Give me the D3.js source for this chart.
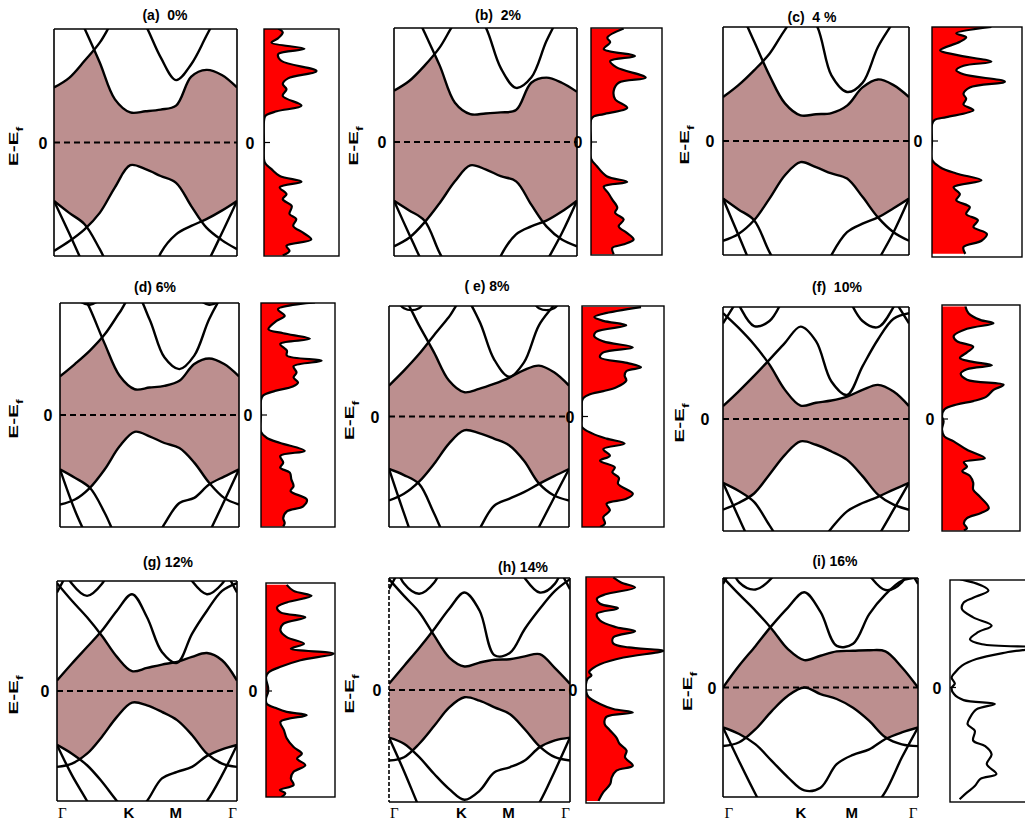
<!DOCTYPE html>
<html>
<head>
<meta charset="utf-8">
<script src="https://cdnjs.cloudflare.com/ajax/libs/d3/7.8.5/d3.min.js"></script>
<style>
  body { margin: 0; background: #fff; }
  text { font-family: "Liberation Sans", Arial, sans-serif; }
</style>
</head>
<body>
<script>
// k-path sample points, fraction of the G-K-M-G path
var kGrid = [0, 0.083, 0.167, 0.25, 0.333, 0.417, 0.5, 0.583, 0.667, 0.75, 0.833, 0.917, 1];
var kLabels = ["Γ", "K", "M", "Γ"];
var kLabelPos = [0.03, 0.40, 0.66, 0.975];

var titles = ["(a)  0%", "(b)  2%", "(c)  4 %", "(d) 6%", "( e) 8%", "(f)  10%", "(g) 12%", "(h) 14%", "(i) 16%"];

// bands: energies (E-Ef) on kGrid; dos: [energy, relative density]
// (a) 0%
var condA = [
  [0.97, 1.14, 1.44, 1.76, 2.2, 2.5, 2.07, 1.50, 1.10, 1.38, 1.88, 2.4, 2.9],
  [3.2, 2.6, 2.01, 1.41, 0.76, 0.53, 0.55, 0.58, 0.65, 1.16, 1.28, 1.19, 0.97]
];
var valA = [
  [-1.91, -1.74, -1.53, -1.24, -0.79, -0.40, -0.47, -0.59, -0.71, -1.12, -1.50, -1.72, -1.88],
  [-1.03, -1.24, -1.44, -1.88, -2.4, -2.7, -2.7, -1.95, -1.62, -1.47, -1.35, -1.20, -1.03],
  [-1.03, -1.60, -2.2, -2.8, -3.2, -3.4, -3.4, -3.2, -2.9, -2.6, -2.15, -1.6, -1.03]
];
var dosA = [[2.01,.19],[1.94,.25],[1.84,.19],[1.76,.10],[1.65,.54],[1.56,.19],[1.44,.23],[1.26,.70],[1.13,.32],[1.03,.25],[0.94,.30],[0.82,.25],[0.65,.50],[0.55,.17],[0.47,.02],[0.38,0],[0,0],[-0.35,0.01],[-0.47,.10],[-0.59,.21],[-0.69,.50],[-0.79,.21],[-0.91,.30],[-1.0,.25],[-1.12,.37],[-1.26,.34],[-1.35,.43],[-1.47,.39],[-1.59,.52],[-1.71,.63],[-1.82,.30],[-1.91,.34],[-1.99,.25]];

// (b) 2%
var condB = [
  [0.90, 1.07, 1.34, 1.66, 2.1, 2.4, 2.02, 1.30, 0.95, 1.13, 1.77, 2.3, 2.8],
  [3.1, 2.5, 1.92, 1.34, 0.69, 0.49, 0.50, 0.52, 0.56, 1.04, 1.13, 1.04, 0.88]
];
var valB = [
  [-1.83, -1.68, -1.41, -1.07, -0.69, -0.41, -0.48, -0.60, -0.69, -1.10, -1.48, -1.71, -1.83],
  [-1.03, -1.20, -1.38, -1.95, -2.4, -2.7, -2.7, -2.0, -1.62, -1.48, -1.38, -1.22, -1.03],
  [-1.03, -1.62, -2.2, -2.8, -3.2, -3.4, -3.4, -3.2, -2.9, -2.6, -2.1, -1.6, -1.03]
];
var dosB = [[1.99,.46],[1.83,.23],[1.75,.27],[1.63,.18],[1.51,.62],[1.42,.27],[1.31,.36],[1.13,.77],[1.04,.39],[0.90,.32],[0.75,.34],[0.60,.51],[0.49,.18],[0.45,.04],[0.39,0],[0,0],[-0.29,0],[-0.42,.08],[-0.60,.22],[-0.70,.51],[-0.78,.18],[-0.89,.24],[-1.01,.30],[-1.15,.37],[-1.24,.34],[-1.36,.46],[-1.48,.39],[-1.59,.50],[-1.71,.60],[-1.80,.45],[-1.86,.30],[-1.97,.32]];

// (c) 4%
var condC = [
  [0.77, 0.98, 1.24, 1.53, 1.95, 2.3, 2.05, 1.15, 0.86, 1.02, 1.65, 2.1, 2.6],
  [2.9, 2.35, 1.75, 1.15, 0.66, 0.45, 0.47, 0.49, 0.62, 0.94, 1.08, 0.98, 0.77]
];
var valC = [
  [-1.75, -1.63, -1.39, -1.01, -0.60, -0.37, -0.46, -0.57, -0.66, -0.98, -1.34, -1.60, -1.75],
  [-1.01, -1.20, -1.39, -1.95, -2.4, -2.7, -2.6, -2.0, -1.60, -1.45, -1.34, -1.18, -1.01],
  [-1.01, -1.65, -2.3, -2.9, -3.2, -3.4, -3.4, -3.2, -2.9, -2.6, -2.1, -1.6, -1.01]
];
var dosC = [[2.0,.66],[1.89,.27],[1.82,.38],[1.74,.31],[1.59,.09],[1.51,.27],[1.39,.66],[1.32,.35],[1.24,.27],[1.17,.35],[1.04,.81],[0.94,.42],[0.83,.35],[0.74,.38],[0.64,.35],[0.54,.46],[0.42,.16],[0.37,.03],[0.29,0],[0,0],[-0.33,0],[-0.46,.09],[-0.57,.27],[-0.69,.55],[-0.81,.24],[-0.93,.31],[-1.04,.27],[-1.16,.42],[-1.28,.38],[-1.39,.51],[-1.51,.46],[-1.63,.61],[-1.75,.55],[-1.86,.35],[-1.98,.37]];

// (d) 6%
var condD = [
  [0.69, 0.91, 1.15, 1.44, 1.83, 2.2, 1.71, 1.03, 0.82, 1.06, 1.71, 2.2, 2.6],
  [2.9, 2.45, 1.9, 1.27, 0.70, 0.46, 0.49, 0.52, 0.61, 0.91, 1.01, 0.91, 0.69],
  [2.5, 2.1, 1.97, 2.15, 2.6, 3.0, 3.2, 3.0, 2.6, 2.15, 1.97, 2.1, 2.5]
];
var valD = [
  [-1.60, -1.51, -1.30, -0.97, -0.56, -0.30, -0.38, -0.50, -0.59, -0.85, -1.21, -1.48, -1.60],
  [-0.97, -1.12, -1.30, -1.75, -2.3, -2.6, -2.4, -1.95, -1.57, -1.48, -1.24, -1.10, -0.97],
  [-0.97, -1.7, -2.3, -2.9, -3.2, -3.4, -3.4, -3.2, -2.9, -2.6, -2.1, -1.54, -0.97]
];
var dosD = [[2.01,.73],[1.89,.23],[1.77,.32],[1.68,.21],[1.53,.10],[1.46,.30],[1.36,.66],[1.27,.26],[1.15,.35],[1.06,.35],[0.97,.82],[0.87,.44],[0.76,.48],[0.67,.44],[0.58,.50],[0.51,.43],[0.43,.19],[0.35,.03],[0.27,0],[0,0],[-0.30,0],[-0.41,.08],[-0.50,.26],[-0.64,.59],[-0.73,.26],[-0.85,.30],[-0.94,.26],[-1.03,.39],[-1.15,.41],[-1.27,.44],[-1.36,.40],[-1.51,.62],[-1.63,.57],[-1.72,.35],[-1.84,.30],[-1.93,.32],[-1.99,.30]];

// (e) 8%
var condE = [
  [0.56, 0.83, 1.13, 1.47, 1.80, 2.15, 1.74, 1.04, 0.72, 0.98, 1.65, 2.02, 2.4],
  [2.4, 2.15, 1.65, 1.16, 0.65, 0.44, 0.50, 0.59, 0.70, 0.84, 0.92, 0.80, 0.56],
  [2.4, 1.96, 1.96, 2.4, 2.8, 3.1, 3.2, 3.1, 2.8, 2.4, 1.96, 1.96, 2.4]
];
var valE = [
  [-1.52, -1.40, -1.18, -0.86, -0.49, -0.25, -0.30, -0.40, -0.52, -0.80, -1.21, -1.43, -1.52],
  [-0.95, -1.06, -1.22, -1.75, -2.3, -2.5, -2.05, -1.62, -1.49, -1.37, -1.22, -1.08, -0.95],
  [-0.95, -1.75, -2.5, -3.0, -3.3, -3.4, -3.4, -3.3, -3.0, -2.5, -2.0, -1.47, -0.95]
];
var dosE = [[1.98,.72],[1.86,.26],[1.80,.15],[1.73,.26],[1.65,.54],[1.53,.17],[1.45,.15],[1.36,.26],[1.25,.62],[1.16,.26],[1.07,.22],[0.97,.55],[0.89,.72],[0.82,.54],[0.74,.52],[0.65,.54],[0.53,.42],[0.46,.26],[0.40,.09],[0.34,.02],[0.28,0],[0,0],[-0.19,0],[-0.31,.13],[-0.40,.30],[-0.49,.52],[-0.59,.26],[-0.71,.34],[-0.80,.22],[-0.92,.40],[-1.01,.37],[-1.11,.45],[-1.22,.44],[-1.40,.62],[-1.49,.54],[-1.58,.30],[-1.70,.34],[-1.82,.26],[-1.94,.28],[-2.0,.22]];

// (f) 10%
var condF = [
  [0.23, 0.49, 0.77, 1.06, 1.36, 1.65, 1.39, 0.67, 0.43, 0.94, 1.42, 1.79, 1.89],
  [1.89, 1.63, 1.33, 0.97, 0.52, 0.24, 0.29, 0.33, 0.40, 0.52, 0.61, 0.49, 0.23],
  [1.71, 2.15, 2.6, 3.0, 3.3, 3.5, 3.5, 3.5, 3.3, 3.0, 2.6, 2.15, 1.71],
  [2.6, 2.05, 1.66, 1.75, 2.2, 2.7, 3.0, 2.7, 2.2, 1.75, 1.64, 2.0, 2.6]
];
var valF = [
  [-1.62, -1.50, -1.33, -0.99, -0.64, -0.40, -0.46, -0.58, -0.73, -1.02, -1.35, -1.53, -1.62],
  [-1.14, -1.28, -1.48, -1.9, -2.3, -2.5, -2.3, -1.95, -1.65, -1.50, -1.39, -1.26, -1.14],
  [-1.14, -1.75, -2.35, -2.9, -3.2, -3.4, -3.4, -3.2, -2.9, -2.55, -2.1, -1.62, -1.14]
];
var dosF = [[2.01,.30],[1.89,.34],[1.77,.49],[1.71,.66],[1.61,.32],[1.48,.15],[1.39,.19],[1.29,.40],[1.19,.32],[1.09,.23],[1.03,.36],[0.96,.64],[0.89,.32],[0.81,.24],[0.70,.32],[0.61,.79],[0.52,.66],[0.40,.57],[0.32,.40],[0.26,.19],[0.17,.03],[0.05,0],[-0.04,.02],[-0.19,0],[-0.31,.03],[-0.40,.15],[-0.55,.32],[-0.70,.55],[-0.77,.28],[-0.85,.32],[-0.93,.26],[-1.02,.36],[-1.14,.40],[-1.26,.40],[-1.38,.48],[-1.59,.60],[-1.68,.50],[-1.77,.32],[-1.86,.28],[-1.95,.32],[-1.99,.28]];

// (g) 12%
var condG = [
  [0.19, 0.50, 0.80, 1.10, 1.46, 1.76, 1.34, 0.71, 0.51, 1.04, 1.46, 1.82, 1.96],
  [1.96, 1.64, 1.34, 1.00, 0.62, 0.36, 0.42, 0.48, 0.53, 0.62, 0.69, 0.56, 0.19],
  [1.79, 2.3, 2.8, 3.2, 3.4, 3.5, 3.5, 3.5, 3.4, 3.2, 2.8, 2.3, 1.79],
  [2.5, 1.95, 1.73, 1.95, 2.5, 3.0, 3.2, 3.0, 2.5, 2.0, 1.76, 1.95, 2.5]
];
var valG = [
  [-1.38, -1.32, -1.14, -0.83, -0.47, -0.21, -0.26, -0.38, -0.53, -0.80, -1.14, -1.32, -1.38],
  [-0.98, -1.14, -1.35, -1.65, -2.0, -2.3, -2.0, -1.59, -1.47, -1.38, -1.18, -1.06, -0.98],
  [-0.98, -1.53, -2.0, -2.5, -3.0, -3.2, -3.2, -3.0, -2.6, -2.3, -2.0, -1.53, -0.98]
];
var dosG = [[1.93,.30],[1.82,.40],[1.73,.66],[1.61,.30],[1.52,.16],[1.43,.21],[1.34,.57],[1.22,.25],[1.10,.21],[0.98,.30],[0.86,.55],[0.77,.36],[0.68,.98],[0.56,.50],[0.44,.21],[0.34,.04],[0.25,0],[0.07,.03],[-0.02,.03],[-0.14,0],[-0.23,.01],[-0.32,.16],[-0.38,.30],[-0.44,.59],[-0.56,.21],[-0.71,.26],[-0.86,.30],[-1.02,.40],[-1.14,.52],[-1.23,.45],[-1.35,.57],[-1.47,.40],[-1.59,.36],[-1.71,.40],[-1.80,.20],[-1.86,.28],[-1.93,.22]];

// (h) 14%
var condH = [
  [0.11, 0.43, 0.75, 1.09, 1.45, 1.74, 1.42, 0.62, 0.66, 1.09, 1.45, 1.77, 1.98],
  [1.98, 1.68, 1.39, 0.97, 0.58, 0.42, 0.49, 0.54, 0.55, 0.60, 0.64, 0.39, 0.11],
  [1.80, 2.3, 2.8, 3.2, 3.4, 3.5, 3.5, 3.5, 3.4, 3.2, 2.8, 2.3, 1.80],
  [2.6, 1.9, 1.72, 1.92, 2.5, 3.0, 3.2, 3.0, 2.5, 2.0, 1.74, 1.9, 2.6]
];
var valH = [
  [-1.26, -1.20, -0.96, -0.64, -0.31, -0.13, -0.19, -0.31, -0.43, -0.70, -1.01, -1.20, -1.26],
  [-0.85, -0.96, -1.20, -1.50, -1.77, -1.96, -1.80, -1.47, -1.38, -1.26, -1.02, -0.90, -0.85],
  [-0.85, -1.45, -2.1, -2.7, -3.0, -3.2, -3.2, -3.0, -2.7, -2.4, -2.0, -1.44, -0.85]
];
var dosH = [[2.01,.35],[1.92,.45],[1.83,.63],[1.71,.25],[1.63,.14],[1.54,.18],[1.46,.41],[1.36,.14],[1.24,.18],[1.12,.39],[1.05,.63],[0.94,.35],[0.83,.35],[0.76,.55],[0.70,.99],[0.58,.48],[0.46,.18],[0.39,.09],[0.32,.04],[0.26,.07],[0.20,.02],[0.11,0],[-0.01,0],[-0.12,.03],[-0.25,.18],[-0.34,.35],[-0.40,.60],[-0.48,.26],[-0.61,.24],[-0.71,.30],[-0.85,.39],[-0.96,.43],[-1.08,.52],[-1.20,.50],[-1.35,.60],[-1.44,.39],[-1.56,.33],[-1.68,.31],[-1.83,.22],[-1.98,.16]];

// (i) 16%
var condI = [
  [0.0, 0.40, 0.76, 1.13, 1.46, 1.74, 1.38, 0.76, 0.80, 1.34, 1.70, 1.95, 2.01],
  [2.01, 1.70, 1.40, 1.07, 0.70, 0.50, 0.58, 0.66, 0.67, 0.68, 0.66, 0.37, 0.0],
  [1.89, 2.4, 2.9, 3.3, 3.5, 3.6, 3.6, 3.6, 3.5, 3.3, 2.9, 2.4, 1.89],
  [2.6, 1.92, 1.79, 2.0, 2.5, 3.0, 3.2, 3.0, 2.5, 2.05, 1.78, 1.92, 2.6]
];
var valI = [
  [-1.07, -1.00, -0.76, -0.43, -0.15, 0.0, -0.12, -0.21, -0.37, -0.61, -0.91, -1.04, -1.07],
  [-0.73, -0.85, -1.04, -1.34, -1.64, -1.88, -1.83, -1.40, -1.23, -1.13, -0.94, -0.82, -0.73],
  [-0.73, -1.35, -1.95, -2.5, -2.9, -3.1, -3.1, -2.9, -2.6, -2.3, -1.90, -1.28, -0.73]
];
var dosI = [[1.98,.125],[1.86,.40],[1.77,.48],[1.64,.29],[1.55,.17],[1.43,.15],[1.28,.29],[1.13,.52],[1.01,.35],[0.88,.25],[0.79,.40],[0.73,1.1],[0.64,.70],[0.52,.33],[0.40,.15],[0.27,.06],[0.18,.02],[0.07,.06],[-0.01,.02],[-0.12,.05],[-0.23,.17],[-0.30,.56],[-0.40,.33],[-0.55,.25],[-0.67,.22],[-0.79,.31],[-0.97,.29],[-1.07,.44],[-1.22,.52],[-1.40,.46],[-1.58,.58],[-1.67,.38],[-1.80,.31],[-1.92,.21],[-2.04,.12]];

var panels = [
  { cond: condA, val: valA, dos: dosA },
  { cond: condB, val: valB, dos: dosB },
  { cond: condC, val: valC, dos: dosC },
  { cond: condD, val: valD, dos: dosD },
  { cond: condE, val: valE, dos: dosE },
  { cond: condF, val: valF, dos: dosF },
  { cond: condG, val: valG, dos: dosG },
  { cond: condH, val: valH, dos: dosH },
  { cond: condI, val: valI, dos: dosI }
];

// page layout of each panel (pixels)
var layout = [
  { bx: [54, 237], by: [29, 256], dx: [264, 339], dy: [29, 256], tx: 165, ty: 20, yl: 18, zl: 43, dzl: 250 },
  { bx: [394, 577], by: [28, 256], dx: [591, 662], dy: [28, 255], tx: 498, ty: 20, yl: 358, zl: 382, dzl: 578 },
  { bx: [723, 909], by: [27, 255], dx: [932, 1022], dy: [27, 257], tx: 812, ty: 22, yl: 689, zl: 710, dzl: 918 },
  { bx: [60, 239], by: [303, 527], dx: [261, 335], dy: [303, 527], tx: 155, ty: 292, yl: 18, zl: 48, dzl: 248 },
  { bx: [389, 569], by: [306, 527], dx: [582, 664], dy: [306, 527], tx: 487, ty: 291, yl: 354, zl: 375, dzl: 570 },
  { bx: [723, 909], by: [307, 531], dx: [942, 1020], dy: [305, 531], tx: 837, ty: 292, yl: 684, zl: 705, dzl: 930 },
  { bx: [57, 237], by: [581, 801], dx: [266, 335], dy: [583, 797], tx: 168, ty: 567, yl: 18, zl: 45, dzl: 253, kAxis: true },
  { bx: [389, 570], by: [578, 802], dx: [586, 664], dy: [577, 803], tx: 523, ty: 572, yl: 354, zl: 377, dzl: 573, kAxis: true, dashedLeft: true },
  { bx: [723, 918], by: [578, 797], dx: [950, 1030], dy: [580, 802], tx: 835, ty: 566, yl: 692, zl: 712, dzl: 937, kAxis: true, noFill: true }
];

var svg = d3.select("body").append("svg")
    .attr("width", 1025)
    .attr("height", 822);

var defs = svg.append("defs");
var curve = d3.curveCatmullRom;

panels.forEach(function (p, i) {
    var L = layout[i];
    var g = svg.append("g");

    var x = d3.scaleLinear().domain([0, 1]).range(L.bx);
    var y = d3.scaleLinear().domain([-2, 2]).range([L.by[1], L.by[0]]);
    var y0 = y(0);

    // band-structure box
    defs.append("clipPath").attr("id", "bclip" + i).append("rect")
        .attr("x", L.bx[0]).attr("y", L.by[0])
        .attr("width", L.bx[1] - L.bx[0]).attr("height", L.by[1] - L.by[0]);
    var body = g.append("g").attr("clip-path", "url(#bclip" + i + ")");

    // gap shading: fill all, then blank out above conduction and below valence bands
    body.append("rect")
        .attr("x", L.bx[0]).attr("y", L.by[0])
        .attr("width", L.bx[1] - L.bx[0]).attr("height", L.by[1] - L.by[0])
        .attr("fill", "#bc8f8f");

    var above = d3.area()
        .x(function (d, j) { return x(kGrid[j]); })
        .y0(L.by[0] - 20)
        .y1(function (d) { return y(d); })
        .curve(curve);
    var below = d3.area()
        .x(function (d, j) { return x(kGrid[j]); })
        .y0(L.by[1] + 20)
        .y1(function (d) { return y(d); })
        .curve(curve);
    p.cond.forEach(function (b) {
        body.append("path").attr("d", above(b)).attr("fill", "#fff");
    });
    p.val.forEach(function (b) {
        body.append("path").attr("d", below(b)).attr("fill", "#fff");
    });

    body.append("line")
        .attr("x1", L.bx[0]).attr("x2", L.bx[1])
        .attr("y1", y0).attr("y2", y0)
        .attr("stroke", "#000").attr("stroke-width", 1.8)
        .attr("stroke-dasharray", "6,4");

    var line = d3.line()
        .x(function (d, j) { return x(kGrid[j]); })
        .y(function (d) { return y(d); })
        .curve(curve);
    p.cond.concat(p.val).forEach(function (b) {
        body.append("path").attr("d", line(b))
            .attr("fill", "none").attr("stroke", "#000")
            .attr("stroke-width", 2.4).attr("stroke-linejoin", "round");
    });

    // frame
    var fr = g.append("g").attr("stroke", "#000").attr("stroke-width", 1.6);
    fr.append("line").attr("x1", L.bx[0]).attr("x2", L.bx[1]).attr("y1", L.by[0]).attr("y2", L.by[0]);
    fr.append("line").attr("x1", L.bx[0]).attr("x2", L.bx[1]).attr("y1", L.by[1]).attr("y2", L.by[1]);
    fr.append("line").attr("x1", L.bx[1]).attr("x2", L.bx[1]).attr("y1", L.by[0]).attr("y2", L.by[1]);
    fr.append("line").attr("x1", L.bx[0]).attr("x2", L.bx[0]).attr("y1", L.by[0]).attr("y2", L.by[1])
        .attr("stroke-dasharray", L.dashedLeft ? "4,2" : null);

    // DOS box
    var dx = d3.scaleLinear().domain([0, 1]).range(L.dx);
    defs.append("clipPath").attr("id", "dclip" + i).append("rect")
        .attr("x", L.dx[0]).attr("y", L.dy[0])
        .attr("width", L.dx[1] - L.dx[0]).attr("height", L.dy[1] - L.dy[0]);
    var dbody = g.append("g").attr("clip-path", "url(#dclip" + i + ")");
    if (!L.noFill) {
        dbody.append("path")
            .attr("d", d3.area()
                .y(function (d) { return y(d[0]); })
                .x0(L.dx[0])
                .x1(function (d) { return dx(d[1]); })
                .curve(curve)(p.dos))
            .attr("fill", "#ff0000");
    }
    dbody.append("path")
        .attr("d", d3.line()
            .y(function (d) { return y(d[0]); })
            .x(function (d) { return dx(d[1]); })
            .curve(curve)(p.dos))
        .attr("fill", "none").attr("stroke", "#000").attr("stroke-width", 2.2);
    g.append("rect")
        .attr("x", L.dx[0]).attr("y", L.dy[0])
        .attr("width", L.dx[1] - L.dx[0]).attr("height", L.dy[1] - L.dy[0])
        .attr("fill", "none").attr("stroke", "#000").attr("stroke-width", 1.4);
    g.append("line")
        .attr("x1", L.dx[0]).attr("x2", L.dx[0] + 6)
        .attr("y1", y0).attr("y2", y0)
        .attr("stroke", "#000").attr("stroke-width", 1.2);

    // texts
    g.append("text")
        .attr("x", L.tx).attr("y", L.ty)
        .attr("text-anchor", "middle")
        .style("white-space", "pre")
        .style("font-size", "14px").style("font-weight", "bold")
        .text(titles[i]);

    // axis title, drawn stretched along its length like the original
    var yl = g.append("text")
        .attr("transform", "translate(" + L.yl + "," + (y0 + 4) + ") rotate(-90) scale(1.6,1)")
        .attr("text-anchor", "middle")
        .style("font-size", "13px").style("font-weight", "bold");
    yl.append("tspan").text("E-E");
    yl.append("tspan").attr("baseline-shift", "sub").style("font-size", "9px").text("f");

    g.append("text")
        .attr("x", L.zl).attr("y", y0 + 6)
        .attr("text-anchor", "middle")
        .style("font-size", "16px").style("font-weight", "bold")
        .text("0");
    g.append("text")
        .attr("x", L.dzl).attr("y", y0 + 6)
        .attr("text-anchor", "middle")
        .style("font-size", "16px").style("font-weight", "bold")
        .text("0");

    if (L.kAxis) {
        kLabels.forEach(function (lab, j) {
            var greek = lab === "Γ";
            g.append("text")
                .attr("x", x(kLabelPos[j])).attr("y", 818)
                .attr("text-anchor", "middle")
                .style("font-family", greek ? "'Liberation Serif', serif" : null)
                .style("font-weight", greek ? "normal" : "bold")
                .style("font-size", "15px")
                .text(lab);
        });
    }
});
</script>
</body>
</html>
